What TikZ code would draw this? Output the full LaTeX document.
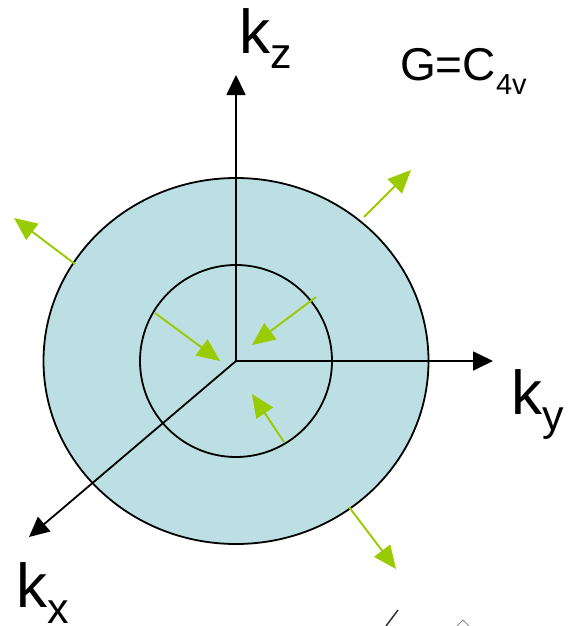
\documentclass[tikz,border=0pt]{standalone}
\usepackage{fontspec}
\setmainfont{Liberation Sans}
\usepackage{tikz}
\usetikzlibrary{arrows.meta, positioning, shapes.geometric}
\definecolor{shellblue}{HTML}{BBDFE3}
\definecolor{arrowgreen}{HTML}{99CC00}
\newcommand{\axissub}[1]{\raisebox{-16pt}{\fontsize{43}{43}\selectfont #1}}
\newcommand{\groupsub}[1]{\raisebox{-14pt}{\fontsize{29}{29}\selectfont #1}}

\begin{document}
\begin{tikzpicture}[
    x=1pt, y=-1pt,
    axis/.style={black, line width=1.8pt, -{Triangle[width=19pt, length=20pt]}},
    flow/.style={arrowgreen, line width=1.9pt, -{Triangle[width=20pt, length=23pt]}},
    axislabel/.style={font=\fontsize{62}{62}\selectfont},
    every node/.style={inner sep=0pt},
]
\useasboundingbox (0,0) rectangle (572,626);
\node[ellipse, draw=black, line width=1.8pt, fill=shellblue, minimum width=385pt, minimum height=366pt] (outer) at (236,361) {};
\node[circle, draw=black, line width=1.8pt, minimum size=192pt] (inner) at (236,361) {};
\coordinate (o) at (236,361);
\coordinate (zend) at (236,75);
\coordinate (yend) at (493,361);
\coordinate (xend) at (29,537);
\draw[axis] (o) -- (zend);
\draw[axis] (o) -- (yend);
\draw[axis] (o) -- (xend);
% arrows out of the shell
\coordinate (a1) at (364,217);
\coordinate (a2) at (411,170);
\coordinate (b1) at (75,264);
\coordinate (b2) at (14,218);
\coordinate (c1) at (349,507);
\coordinate (c2) at (396,569);
\draw[flow] (a1) -- (a2);
\draw[flow] (b1) -- (b2);
\draw[flow] (c1) -- (c2);
% arrows into the core
\coordinate (d1) at (155,313);
\coordinate (d2) at (220,361);
\coordinate (e1) at (316,297);
\coordinate (e2) at (252,345);
\coordinate (f1) at (284,442);
\coordinate (f2) at (252,394);
\draw[flow] (d1) -- (d2);
\draw[flow] (e1) -- (e2);
\draw[flow] (f1) -- (f2);
\node[axislabel, anchor=base west] (kz) at (239,53) {k\axissub{z}};
\node[axislabel, anchor=base west] (ky) at (511,414) {k\axissub{y}};
\node[axislabel, anchor=base west] (kx) at (16,607) {k\axissub{x}};
\node[anchor=base west, font=\fontsize{46}{46}\selectfont] (group) at (400,80) {G=C\groupsub{4v}};
% cut off marks at the lower edge
\draw[black!80, line width=1.5pt] (398,610) -- (386,626);
\draw[black!45, line width=1pt] (457,626) -- (463,620) -- (469,626);
\end{tikzpicture}
\end{document}
